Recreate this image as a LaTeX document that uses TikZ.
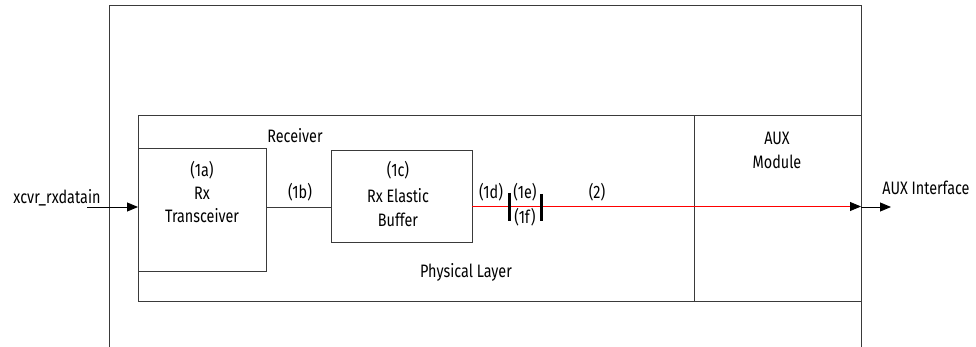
\documentclass[tikz,border=0pt]{standalone}
\usepackage{fontspec}
\setmainfont{Fira Sans}[FakeStretch=0.80]
\usetikzlibrary{arrows.meta}
\definecolor{linegray}{HTML}{3A3A3A}
\begin{document}
\begin{tikzpicture}[x=1pt,y=-1pt,
  every node/.style={font=\fontsize{18}{21}\selectfont, text=black, inner sep=0pt, outer sep=0pt},
  blk/.style={draw=linegray, line width=1pt, rectangle, fill=none},
  lbl/.style={anchor=base},
  arr/.style={-{Triangle[length=11pt,width=9pt]}, line width=0.9pt, draw=black},
  redarr/.style={-{Triangle[length=11pt,width=9pt,color=black]}, line width=0.8pt, draw=red},
  bar/.style={line width=3pt, draw=black}]
\useasboundingbox (0,0) rectangle (976,347);
% outer frame (open at the bottom)
\coordinate (obl) at (109,347);
\coordinate (otl) at (109,6);
\coordinate (otr) at (861,6);
\coordinate (obr) at (861,347);
\draw[linegray, line width=1pt] (obl) -- (otl) -- (otr) -- (obr);
% boxes
\node[blk, minimum width=556pt, minimum height=185pt] (phys) at (416,208.5) {};
\node[blk, minimum width=167pt, minimum height=185pt] (aux) at (777.5,208.5) {};
\node[blk, minimum width=128pt, minimum height=122pt] (trx) at (202,210) {};
\node[blk, minimum width=141pt, minimum height=91pt] (buf) at (401.5,196.5) {};
% texts
\node[lbl] (lrecv) at (295,143) {Receiver};
\node[lbl] (l1a) at (202,176.5) {(1a)};
\node[lbl] (lrx) at (202,199.5) {Rx};
\node[lbl] (ltrx) at (202,223) {Transceiver};
\node[lbl] (lxin) at (57,204) {xcvr\_rxdatain};
\node[lbl] (l1b) at (300,199) {(1b)};
\node[lbl] (l1c) at (398,176.5) {(1c)};
\node[lbl] (lrxe) at (398,203) {Rx Elastic};
\node[lbl] (lbuf) at (398,227) {Buffer};
\node[lbl] (l1d) at (491,199) {(1d)};
\node[lbl] (l1e) at (525,199) {(1e)};
\node[lbl] (l1f) at (525,223.5) {(1f)};
\node[lbl] (l2) at (597,199) {(2)};
\node[lbl] (lphys) at (466,277.5) {Physical Layer};
\node[lbl] (laux) at (777,145) {AUX};
\node[lbl] (lmod) at (777,169) {Module};
\node[lbl] (lauxif) at (926,195) {AUX Interface};
% connectors
\coordinate (xin) at (87,207);
\coordinate (sig) at (0,207);
\coordinate (rsig) at (0,206.5);
\coordinate (aout) at (891,207);
\draw[arr] (xin) -- (xin -| trx.west);
\draw[linegray, line width=0.9pt] (trx.east |- sig) -- (buf.west |- sig);
\draw[redarr] (buf.east |- rsig) -- (aux.east |- rsig);
\draw[arr] (aux.east |- aout) -- (aout);
% bars
\coordinate (b1t) at (509.5,193);
\coordinate (b1b) at (509.5,221);
\coordinate (b2t) at (541,194);
\coordinate (b2b) at (541,221);
\draw[bar] (b1t) -- (b1b);
\draw[bar] (b2t) -- (b2b);
\end{tikzpicture}
\end{document}
